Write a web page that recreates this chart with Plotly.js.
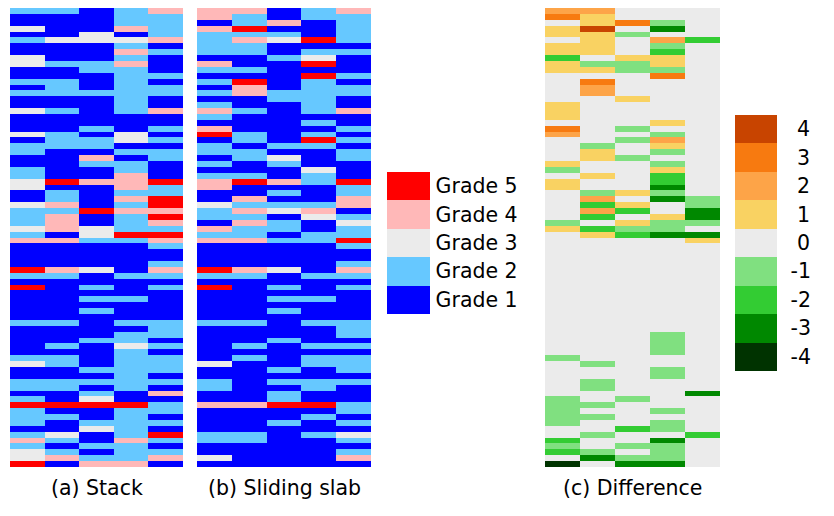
<!DOCTYPE html>
<html>
<head>
<meta charset="utf-8">
<script src="https://cdn.plot.ly/plotly-3.0.1.min.js"></script>
<style>html,body{margin:0;padding:0;background:#fff;}#chart{width:834px;height:516px;}</style>
</head>
<body>
<div id="chart"></div>
<script>
// Column indices (5 columns per panel)
const columns = [0, 1, 2, 3, 4];
// Grade labels for legend
const gradeValues = [1, 2, 3, 4, 5];
const gradeLabels = ["Grade 1", "Grade 2", "Grade 3", "Grade 4", "Grade 5"];
const gradeColors = ["#0000FF", "#66C8FF", "#EBEBEB", "#FFB8B8", "#FF0000"];
// Difference levels
const diffValues = [-4, -3, -2, -1, 0, 1, 2, 3, 4];
const diffLabels = ["-4", "-3", "-2", "-1", "\u00A00", "\u00A01", "\u00A02", "\u00A03", "\u00A04"];
const diffColors = ["#003300", "#008800", "#33CC33", "#80E080", "#EBEBEB", "#F9D262", "#FDA448", "#F77A10", "#C84400"];

// (a) Stack grades, one row per slice (top to bottom)
const stackGrades = [
[2,2,1,2,4],[1,1,1,2,2],[1,1,1,2,2],[3,1,1,4,2],[1,1,3,1,2],[2,3,3,3,4],[1,1,1,2,1],[1,1,1,4,2],
[3,1,1,2,1],[3,2,2,4,1],[1,1,2,2,1],[1,1,1,2,2],[2,2,1,2,1],[1,2,1,2,2],[2,2,2,2,2],[1,1,1,2,1],
[1,1,1,2,1],[3,2,1,2,4],[1,1,1,1,1],[1,1,1,1,1],[1,1,2,1,2],[3,2,1,3,1],[1,2,2,3,2],[2,2,2,1,1],
[2,1,1,2,2],[1,1,4,1,2],[1,1,2,2,1],[2,1,1,2,1],[2,1,1,4,1],[3,5,4,4,5],[3,1,1,4,2],[1,2,1,2,2],
[1,2,1,4,5],[3,4,1,2,5],[2,2,5,4,4],[2,4,1,2,5],[2,4,1,2,4],[3,4,3,2,2],[2,1,3,5,5],[4,4,2,2,4],
[1,1,1,1,2],[1,1,1,1,1],[1,1,1,1,1],[1,1,1,1,2],[5,4,3,1,4],[2,2,1,2,2],[1,1,1,1,1],[5,1,2,1,2],
[1,1,1,1,1],[1,1,2,2,1],[1,1,1,1,1],[1,1,2,1,1],[1,1,1,1,1],[2,2,1,2,2],[1,1,1,1,2],[1,1,1,2,2],
[1,1,2,2,1],[1,2,1,3,2],[1,1,1,2,1],[2,2,1,2,2],[3,2,1,2,2],[1,1,2,2,2],[1,1,1,2,1],[2,2,2,2,2],
[2,2,1,2,1],[1,1,2,1,4],[2,1,3,1,1],[5,5,5,5,2],[2,1,1,2,2],[2,2,1,2,1],[2,1,2,2,2],[1,1,3,2,1],
[2,3,1,2,5],[4,2,1,4,2],[2,1,2,2,1],[3,2,1,2,2],[3,4,2,2,4],[5,1,4,4,1]
];
// (b) Sliding slab grades
const slabGrades = [
[4,4,1,2,4],[4,2,1,2,2],[1,2,4,1,2],[4,5,1,1,2],[2,2,2,1,2],[2,4,3,5,2],[2,2,1,1,1],[2,2,1,2,2],
[1,1,2,3,1],[4,1,1,5,1],[2,2,1,1,1],[1,1,1,5,2],[2,5,1,2,1],[1,4,1,2,2],[2,4,2,2,2],[1,1,2,2,1],
[2,1,1,2,1],[4,2,1,2,4],[2,1,1,1,1],[1,1,1,2,1],[4,1,1,1,2],[5,2,1,2,1],[1,2,1,5,2],[2,1,2,2,1],
[2,2,1,1,2],[1,2,3,1,2],[2,1,2,1,1],[1,1,1,3,1],[2,2,1,2,1],[4,5,4,2,5],[4,1,1,1,2],[1,1,2,1,2],
[1,4,1,1,4],[3,2,2,2,4],[2,4,3,4,1],[2,2,1,3,2],[1,4,2,1,3],[4,2,2,1,2],[2,2,1,2,2],[4,4,2,2,5],
[1,1,1,1,2],[1,1,1,1,1],[1,1,1,1,1],[1,1,1,1,2],[5,4,3,1,4],[2,2,1,2,2],[1,1,1,1,1],[5,1,2,1,2],
[1,1,1,1,1],[1,1,2,2,1],[1,1,1,1,1],[1,1,2,1,1],[1,1,1,1,1],[2,2,1,2,2],[1,1,1,1,2],[1,1,1,1,2],
[1,1,2,1,1],[1,2,1,2,2],[1,1,1,1,1],[1,2,1,2,2],[3,1,1,2,2],[1,1,2,1,2],[1,1,1,1,1],[2,1,2,2,2],
[2,1,1,2,1],[1,1,2,1,1],[1,1,2,1,1],[4,4,5,5,2],[1,1,1,1,2],[1,1,1,2,1],[1,1,2,1,2],[1,1,1,1,1],
[2,2,1,2,3],[2,2,1,1,2],[1,1,1,1,1],[1,1,1,1,2],[3,1,1,1,4],[1,1,1,1,1]
];
// (c) Difference (slab - stack)
const diffGrades = [
[2,2,0,0,0],[3,1,0,0,0],[0,1,3,-1,0],[1,4,0,-3,0],[1,1,-1,0,0],[0,1,0,2,-2],[1,1,0,-1,0],[1,1,0,-2,0],
[-2,0,1,1,0],[1,-1,-1,1,0],[1,1,-1,-1,0],[0,0,0,3,0],[0,3,0,0,0],[0,2,0,0,0],[0,2,0,0,0],[0,0,1,0,0],
[1,0,0,0,0],[1,0,0,0,0],[1,0,0,0,0],[0,0,0,1,0],[3,0,-1,0,0],[2,0,0,-1,0],[0,0,-1,2,0],[0,-1,0,1,0],
[0,1,0,-1,0],[0,1,-1,0,0],[1,0,0,-1,0],[-1,0,0,1,0],[0,1,0,-2,0],[1,0,0,-2,0],[1,0,0,-3,0],[0,-1,1,-1,0],
[0,2,0,-3,-1],[0,-2,1,0,-1],[0,2,-2,0,-3],[0,-2,0,1,-3],[-1,0,1,-1,-1],[1,-2,-1,-1,0],[0,1,-2,-3,-3],[0,0,0,0,1],
[0,0,0,0,0],[0,0,0,0,0],[0,0,0,0,0],[0,0,0,0,0],[0,0,0,0,0],[0,0,0,0,0],[0,0,0,0,0],[0,0,0,0,0],
[0,0,0,0,0],[0,0,0,0,0],[0,0,0,0,0],[0,0,0,0,0],[0,0,0,0,0],[0,0,0,0,0],[0,0,0,0,0],[0,0,0,-1,0],
[0,0,0,-1,0],[0,0,0,-1,0],[0,0,0,-1,0],[-1,0,0,0,0],[0,-1,0,0,0],[0,0,0,-1,0],[0,0,0,-1,0],[0,-1,0,0,0],
[0,-1,0,0,0],[0,0,0,0,-3],[-1,0,-1,0,0],[-1,-1,0,0,0],[-1,0,0,-1,0],[-1,-1,0,0,0],[-1,0,0,-1,0],[0,0,-2,-1,0],
[0,-1,0,0,-2],[-2,0,0,-3,0],[-1,0,-1,-1,0],[-2,-1,0,-1,0],[0,-3,-1,-1,0],[-4,0,-3,-3,0]
];
const captions = ["(a) Stack", "(b) Sliding slab", "(c) Difference"];

function stepScale(colors) {
  const n = colors.length, s = [];
  colors.forEach((c, i) => { s.push([i / n, c]); s.push([(i + 1) / n, c]); });
  return s;
}
const rows = stackGrades.map((_, i) => i);
const W = 834, H = 516;
const FONT = "'DejaVu Sans', Arial, sans-serif";
const FS = 20.5;

const gradeScale = stepScale(gradeColors);
const diffScale = stepScale(diffColors);

const traces = [
  {type: "heatmap", z: stackGrades, x: columns, y: rows, xaxis: "x", yaxis: "y",
   colorscale: gradeScale, zmin: 0.5, zmax: 5.5, hoverinfo: "skip",
   colorbar: {x: 387 / W, xanchor: "left", xpad: 0, ypad: 0, y: 1 - 242.85 / H, yanchor: "middle",
     thickness: 43, thicknessmode: "pixels", len: 142.3, lenmode: "pixels", outlinewidth: 0,
     tickvals: gradeValues, ticktext: gradeLabels, ticks: "outside", ticklen: 2,
     tickcolor: "rgba(0,0,0,0)", tickfont: {family: FONT, size: FS, color: "#000"}}},
  {type: "heatmap", z: slabGrades, x: columns, y: rows, xaxis: "x2", yaxis: "y2",
   colorscale: gradeScale, zmin: 0.5, zmax: 5.5, showscale: false, hoverinfo: "skip"},
  {type: "heatmap", z: diffGrades, x: columns, y: rows, xaxis: "x3", yaxis: "y3",
   colorscale: diffScale, zmin: -4.5, zmax: 4.5, hoverinfo: "skip",
   colorbar: {x: 735 / W, xanchor: "left", xpad: 0, ypad: 0, y: 1 - 242.85 / H, yanchor: "middle",
     thickness: 42, thicknessmode: "pixels", len: 255.7, lenmode: "pixels", outlinewidth: 0,
     tickvals: diffValues, ticktext: diffLabels, ticks: "outside", ticklen: 10,
     tickcolor: "rgba(0,0,0,0)", tickfont: {family: FONT, size: FS, color: "#000"}}}
];

const yDom = [1 - 467 / H, 1 - 8 / H];
function xax(l, r) {
  return {domain: [l / W, r / W], range: [-0.5, 4.5], showgrid: false, zeroline: false,
          showticklabels: false, ticks: "", showline: false, fixedrange: true};
}
function yax(anchor) {
  return {domain: yDom, range: [rows.length - 0.5, -0.5], anchor: anchor, showgrid: false,
          zeroline: false, showticklabels: false, ticks: "", showline: false, fixedrange: true};
}
const panelX = [[10, 183], [197, 371], [545, 720]];
const layout = {
  width: W, height: H, margin: {l: 0, r: 0, t: 0, b: 0},
  paper_bgcolor: "#fff", plot_bgcolor: "#fff", showlegend: false,
  font: {family: FONT, size: FS, color: "#000"},
  xaxis: Object.assign(xax(10, 183), {anchor: "y"}),
  xaxis2: Object.assign(xax(197, 371), {anchor: "y2"}),
  xaxis3: Object.assign(xax(545, 720), {anchor: "y3"}),
  yaxis: yax("x"), yaxis2: yax("x2"), yaxis3: yax("x3"),
  annotations: captions.map((t, i) => ({
    text: t, xref: "paper", yref: "paper",
    x: (panelX[i][0] + panelX[i][1]) / 2 / W, y: 1 - 488 / H,
    xanchor: "center", yanchor: "middle", showarrow: false,
    font: {family: FONT, size: FS, color: "#000"}
  }))
};
Plotly.newPlot("chart", traces, layout, {staticPlot: true, displayModeBar: false});
</script>
</body>
</html>
